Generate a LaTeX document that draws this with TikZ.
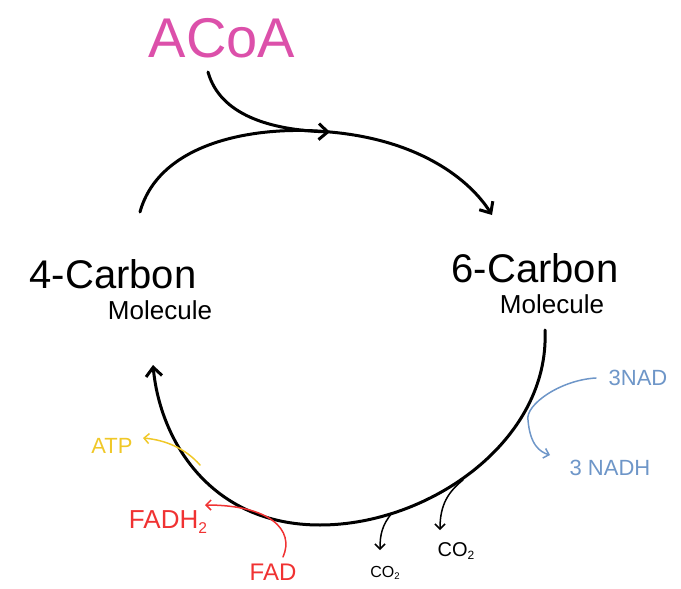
\documentclass[tikz,border=0pt]{standalone}
\usepackage{fontspec}
\setmainfont{Liberation Sans}
\usetikzlibrary{arrows.meta}
\definecolor{mag}{RGB}{220,80,170}
\definecolor{bl}{RGB}{110,150,200}
\definecolor{yl}{RGB}{240,200,40}
\definecolor{rd}{RGB}{240,50,50}
\newcommand{\subtwo}{\raisebox{-0.3ex}{\scalebox{0.6}{2}}}
\begin{document}
\begin{tikzpicture}[x=1pt,y=-1pt,
  cyc/.style={line width=3pt,line cap=round,-{Straight Barb[length=9pt,width=16pt]}},
  thin/.style={line width=1.5pt,line cap=round,-{Straight Barb[length=5pt,width=10pt]}},
  lbl/.style={inner sep=0pt}]
\useasboundingbox (0,0) rectangle (681,589);
\node[lbl,mag,font=\fontsize{56}{56}\selectfont] (acoa) at (222,38) {ACoA};
\node[lbl,font=\fontsize{40}{40}\selectfont] (c4a) at (113,274) {4-Carbon};
\node[lbl,font=\fontsize{26}{26}\selectfont] (c4b) at (160,310) {Molecule};
\node[lbl,font=\fontsize{40}{40}\selectfont] (c6a) at (535,268) {6-Carbon};
\node[lbl,font=\fontsize{26}{26}\selectfont] (c6b) at (552,304) {Molecule};
\node[lbl,bl,font=\fontsize{22}{22}\selectfont] (nad) at (638,378) {3NAD};
\node[lbl,bl,font=\fontsize{22}{22}\selectfont] (nadh) at (610,468) {3 NADH};
\node[lbl,yl,font=\fontsize{22}{22}\selectfont] (atp) at (112,446) {ATP};
\node[lbl,rd,font=\fontsize{26}{26}\selectfont] (fadh) at (168,522) {FADH\subtwo};
\node[lbl,rd,font=\fontsize{24}{24}\selectfont] (fad) at (273,572) {FAD};
\node[lbl,font=\fontsize{16}{16}\selectfont] (co2a) at (385,573) {CO\subtwo};
\node[lbl,font=\fontsize{20}{20}\selectfont] (co2b) at (456,551) {CO\subtwo};
\coordinate (j) at (330,132);
\draw[cyc] (208,72) .. controls (220,115) and (270,130) .. (j);
\draw[cyc] (140,212) .. controls (160,140) and (260,125) .. (330,132) .. controls (420,140) and (470,180) .. (492,215);
\draw[cyc] (545,330) .. controls (550,440) and (430,525) .. (320,525) .. controls (210,525) and (160,440) .. (153,365);
\draw[thin,bl] (596,378) .. controls (560,380) and (525,405) .. (528,420) .. controls (530,445) and (540,452) .. (550,455);
\draw[thin,yl] (200,465) .. controls (185,448) and (165,440) .. (143,438);
\draw[thin,rd] (283,557) .. controls (295,530) and (270,505) .. (205,505);
\draw[thin] (392,513) .. controls (382,525) and (380,535) .. (380,550);
\draw[thin] (463,480) .. controls (448,492) and (440,505) .. (440,530);
\end{tikzpicture}
\end{document}
